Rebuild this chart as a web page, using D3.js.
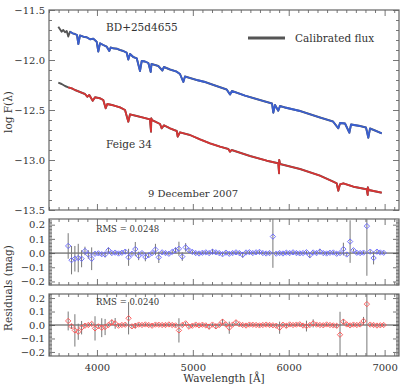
<!DOCTYPE html>
<html><head><meta charset="utf-8">
<script src="https://cdn.jsdelivr.net/npm/d3@7"></script>
<style>
body{margin:0;background:#fff}
svg{display:block}
text{font-family:"DejaVu Serif",serif;fill:#333}
</style>
</head><body>
<svg id="c" width="407" height="387"></svg>
<script>
// ---------- data ----------
const blueWave = [3597,3632,3649,3667,3685,3701,3719,3747,3771,3792,3806,3823,3858,3893,3928,3962,3997,4014,4032,4066,4102,4129,4143,4171,4206,4240,4275,4310,4327,4345,4379,4415,4449,4467,4501,4536,4561,4569,4606,4640,4682,4699,4762,4832,4866,4901,4918,4970,5040,5127,5231,5353,5388,5408,5544,5628,5753,5826,5839,5857,5891,5909,5961,6118,6326,6462,6517,6535,6587,6632,6650,6743,6806,6830,6848,6900,6970];
const blueFlux = [-11.667,-11.717,-11.700,-11.723,-11.710,-11.765,-11.717,-11.733,-11.740,-11.750,-11.840,-11.755,-11.767,-11.773,-11.793,-11.787,-11.817,-11.915,-11.833,-11.850,-11.867,-11.910,-11.875,-11.883,-11.887,-11.900,-11.910,-11.927,-11.995,-11.940,-11.970,-11.983,-12.110,-12.010,-12.015,-12.030,-12.120,-12.040,-12.050,-12.060,-12.105,-12.070,-12.095,-12.117,-12.140,-12.220,-12.165,-12.180,-12.200,-12.220,-12.255,-12.295,-12.345,-12.310,-12.357,-12.380,-12.415,-12.435,-12.527,-12.450,-12.507,-12.460,-12.475,-12.510,-12.575,-12.615,-12.683,-12.630,-12.635,-12.727,-12.645,-12.660,-12.675,-12.777,-12.685,-12.705,-12.733];
const blueObsStart = 3719;

const redWave = [3597,3632,3667,3701,3737,3771,3823,3875,3899,3920,3956,3980,4032,4066,4091,4108,4171,4240,4293,4327,4345,4415,4483,4553,4564,4567,4574,4588,4658,4675,4699,4762,4832,4842,4866,4970,5075,5179,5283,5370,5388,5405,5596,5770,5891,5899,5901,5909,6118,6326,6465,6500,6517,6535,6569,6674,6813,6824,6825,6834,6970];
const redFlux = [-12.227,-12.240,-12.260,-12.273,-12.283,-12.300,-12.320,-12.340,-12.367,-12.350,-12.407,-12.373,-12.383,-12.400,-12.483,-12.440,-12.453,-12.473,-12.500,-12.617,-12.543,-12.560,-12.577,-12.593,-12.717,-12.583,-12.600,-12.607,-12.640,-12.683,-12.653,-12.683,-12.710,-12.767,-12.723,-12.750,-12.793,-12.833,-12.867,-12.890,-12.917,-12.900,-12.960,-13.007,-13.033,-13.133,-13.000,-13.040,-13.090,-13.157,-13.217,-13.233,-13.307,-13.243,-13.233,-13.267,-13.293,-13.350,-13.273,-13.300,-13.327];
const redObsStart = 3685;

const resWave = [3700,3735,3770,3805,3840,3875,3910,3945,3980,4015,
 4050,4085,4120,4155,4190,4225,4260,4295,4330,4365,
 4400,4435,4470,4505,4540,4575,4610,4645,4680,4715,
 4750,4785,4820,4855,4890,4925,4960,4995,5030,5065,
 5100,5135,5170,5205,5240,5275,5310,5345,5380,5415,
 5450,5485,5520,5555,5590,5625,5660,5695,5730,5765,
 5800,5835,5870,5905,5940,5975,6010,6045,6080,6115,
 6150,6185,6220,6255,6290,6325,6360,6395,6430,6465,
 6500,6535,6570,6605,6640,6675,6710,6745,6780,6815,
 6850,6885,6920,6955,6990];
const resBlue = [0.050,-0.050,-0.040,-0.035,-0.040,0.015,-0.010,-0.040,-0.005,-0.002,
 -0.008,-0.010,0.020,0.000,0.003,-0.003,0.002,0.010,-0.030,-0.005,
 0.028,-0.020,0.000,-0.028,-0.015,0.000,0.025,-0.030,0.005,0.000,
 -0.005,0.008,0.020,0.030,-0.025,0.040,0.020,0.008,0.000,-0.003,
 0.002,0.005,0.000,0.010,0.005,0.000,-0.008,0.003,-0.005,0.000,
 0.005,0.000,-0.012,0.004,0.006,0.000,0.005,0.008,0.000,-0.003,
 0.000,0.116,-0.004,0.000,-0.003,0.003,0.000,0.005,0.000,-0.002,
 0.000,0.006,-0.015,0.004,0.000,0.010,0.000,-0.003,0.002,0.004,
 -0.005,0.000,0.028,-0.010,0.081,0.020,0.002,0.000,0.003,0.190,
 0.010,-0.035,0.010,0.004,0.002];
const errBlue = [0.090,0.100,0.090,0.100,0.060,0.030,0.030,0.080,0.010,0.010,
 0.010,0.020,0.020,0.010,0.010,0.010,0.010,0.015,0.060,0.010,
 0.050,0.030,0.010,0.030,0.015,0.010,0.040,0.040,0.010,0.010,
 0.010,0.010,0.020,0.050,0.030,0.030,0.015,0.010,0.010,0.010,
 0.010,0.010,0.010,0.020,0.010,0.010,0.010,0.010,0.010,0.010,
 0.010,0.010,0.020,0.010,0.010,0.010,0.010,0.010,0.010,0.010,
 0.010,0.220,0.010,0.010,0.010,0.010,0.010,0.010,0.010,0.010,
 0.010,0.010,0.020,0.010,0.010,0.020,0.010,0.010,0.010,0.010,
 0.010,0.010,0.045,0.012,0.150,0.010,0.010,0.010,0.010,0.350,
 0.010,0.045,0.010,0.010,0.010];
const resRed = [0.030,-0.010,-0.040,-0.050,-0.020,-0.005,0.000,0.008,-0.025,-0.010,
 -0.020,-0.015,0.000,0.020,0.012,-0.005,0.000,0.002,0.050,-0.010,
 -0.005,0.003,0.000,0.004,0.000,-0.005,0.003,0.002,0.000,0.000,
 0.004,0.000,-0.003,-0.040,0.000,0.012,-0.012,-0.005,0.003,-0.003,
 0.002,-0.003,-0.012,0.003,-0.010,0.000,0.025,0.004,-0.020,0.003,
 0.020,0.005,0.000,-0.004,0.003,0.002,0.000,-0.003,0.000,0.003,
 0.000,-0.002,-0.005,-0.020,0.002,-0.006,0.004,0.000,0.003,0.005,
 -0.004,-0.008,0.000,0.012,0.003,0.000,-0.002,0.004,0.000,-0.003,
 -0.006,-0.072,0.025,0.004,-0.003,0.003,0.000,0.004,0.030,0.155,
 0.003,0.000,-0.004,-0.002,0.000];
const errRed = [0.070,0.020,0.120,0.060,0.050,0.010,0.010,0.010,0.090,0.010,
 0.070,0.060,0.010,0.020,0.040,0.010,0.010,0.010,0.120,0.010,
 0.020,0.010,0.010,0.010,0.010,0.010,0.010,0.010,0.010,0.010,
 0.010,0.010,0.010,0.090,0.010,0.010,0.010,0.010,0.010,0.010,
 0.010,0.010,0.020,0.010,0.020,0.010,0.020,0.010,0.045,0.010,
 0.015,0.010,0.010,0.010,0.010,0.010,0.010,0.010,0.010,0.010,
 0.010,0.010,0.010,0.045,0.010,0.015,0.010,0.010,0.010,0.010,
 0.010,0.040,0.010,0.030,0.010,0.010,0.010,0.010,0.010,0.010,
 0.015,0.170,0.020,0.010,0.010,0.010,0.010,0.010,0.030,0.400,
 0.010,0.010,0.010,0.010,0.010];

const xTicks = [4000,5000,6000,7000];
const fluxTicks = [-11.5,-12.0,-12.5,-13.0,-13.5];
const resTicks = [0.2,0.1,0.0,-0.1,-0.2];
const rmsLabels = ["RMS = 0.0248","RMS = 0.0240"];
const starLabels = ["BD+25d4655","Feige 34"];
const dateLabel = "9 December 2007";
const legendLabel = "Calibrated flux";

// ---------- layout ----------
const svg = d3.select("#c");
const L = 49, R = 399;
const FR = "#666";
const x = d3.scaleLinear().domain([3500,7150]).range([L,R]);
const yTop = d3.scaleLinear().domain([-13.5,-11.5]).range([210,10]);
const yMid = d3.scaleLinear().domain([-0.225,0.24]).range([285,219]);
const yBot = d3.scaleLinear().domain([-0.23,0.23]).range([356,294]);

const xMinor = d3.range(3500,7150,100).filter(v => !xTicks.includes(v));

function styleAxis(g){
  g.select(".domain").remove();
  g.selectAll(".tick line").attr("stroke",FR).attr("stroke-width",0.9);
  g.selectAll(".tick text").attr("font-size",10).attr("fill","#333").attr("font-family","DejaVu Serif");
}

function frame(y, yMajor, yMinor, yFmt, xLabels, clipId){
  const [b,t] = y.range();
  const g = svg.append("g");
  g.append("clipPath").attr("id",clipId).append("rect")
    .attr("x",L).attr("y",t).attr("width",R-L).attr("height",b-t);
  g.append("g").attr("transform",`translate(${L},0)`)
    .call(d3.axisLeft(y).tickValues(yMajor).tickSize(-6).tickPadding(4).tickFormat(yFmt)).call(styleAxis);
  g.append("g").attr("transform",`translate(${L},0)`)
    .call(d3.axisLeft(y).tickValues(yMinor).tickSize(-3).tickFormat("")).call(styleAxis);
  g.append("g").attr("transform",`translate(${R},0)`)
    .call(d3.axisRight(y).tickValues(yMajor).tickSize(-6).tickFormat("")).call(styleAxis);
  g.append("g").attr("transform",`translate(${R},0)`)
    .call(d3.axisRight(y).tickValues(yMinor).tickSize(-3).tickFormat("")).call(styleAxis);
  g.append("g").attr("transform",`translate(0,${b})`)
    .call(d3.axisBottom(x).tickValues(xTicks).tickSize(-6).tickPadding(8).tickFormat(xLabels ? d3.format("d") : "")).call(styleAxis);
  g.append("g").attr("transform",`translate(0,${b})`)
    .call(d3.axisBottom(x).tickValues(xMinor).tickSize(-3).tickFormat("")).call(styleAxis);
  g.append("g").attr("transform",`translate(0,${t})`)
    .call(d3.axisTop(x).tickValues(xTicks).tickSize(-6).tickFormat("")).call(styleAxis);
  g.append("g").attr("transform",`translate(0,${t})`)
    .call(d3.axisTop(x).tickValues(xMinor).tickSize(-3).tickFormat("")).call(styleAxis);
  g.append("rect").attr("x",L).attr("y",t).attr("width",R-L).attr("height",b-t)
    .attr("fill","none").attr("stroke",FR).attr("stroke-width",1.2);
  return g;
}

const fmt1 = d3.format(".1f");
const topMinor = d3.range(-13.5,-11.49,0.1).map(v=>+v.toFixed(2)).filter(v=>!fluxTicks.includes(v));
const resMinor = d3.range(-0.22,0.235,0.01).map(v=>+v.toFixed(2)).filter(v=>!resTicks.includes(v));

frame(yTop, fluxTicks, topMinor, fmt1, false, "clipTop");
frame(yMid, resTicks, resMinor, fmt1, false, "clipMid");
frame(yBot, resTicks, resMinor, fmt1, true, "clipBot");

// ---------- spectra ----------
const spec = svg.append("g").attr("clip-path","url(#clipTop)");
function drawSpec(wave, flux, start, color){
  const pts = wave.map((w,i)=>[w,flux[i]]);
  const line = d3.line().x(d=>x(d[0])).y(d=>yTop(d[1]));
  spec.append("path").attr("d",line(pts)).attr("fill","none")
    .attr("stroke","#555").attr("stroke-width",1.9).attr("stroke-linejoin","round");
  spec.append("path").attr("d",line(pts.filter(d=>d[0]>=start))).attr("fill","none")
    .attr("stroke",color).attr("stroke-width",1.8).attr("stroke-linejoin","round");
}
drawSpec(blueWave, blueFlux, blueObsStart, "#3a5fd0");
drawSpec(redWave, redFlux, redObsStart, "#d63434");

svg.append("text").attr("x",106).attr("y",31).attr("font-size",10.5).text(starLabels[0]);
svg.append("text").attr("x",106).attr("y",148).attr("font-size",10.5).text(starLabels[1]);
svg.append("text").attr("x",148).attr("y",197).attr("font-size",10).text(dateLabel);
svg.append("line").attr("x1",248).attr("x2",285).attr("y1",38).attr("y2",38)
  .attr("stroke","#555").attr("stroke-width",3);
svg.append("text").attr("x",295).attr("y",42).attr("font-size",10.5).text(legendLabel);

// ---------- residuals ----------
const diamond = d3.symbol().type(d3.symbolDiamond2 || d3.symbolSquare).size(18);
function drawRes(y, vals, errs, color, clipId){
  const g = svg.append("g").attr("clip-path",`url(#${clipId})`);
  g.append("line").attr("x1",L).attr("x2",R).attr("y1",y(0)).attr("y2",y(0))
    .attr("stroke","#444").attr("stroke-width",1);
  g.selectAll("line.err").data(resWave).join("line").attr("class","err")
    .attr("x1",d=>x(d)).attr("x2",d=>x(d))
    .attr("y1",(d,i)=>y(vals[i]-errs[i])).attr("y2",(d,i)=>y(vals[i]+errs[i]))
    .attr("stroke","#777").attr("stroke-width",1);
  g.selectAll("path.pt").data(resWave).join("path").attr("class","pt")
    .attr("d",diamond)
    .attr("transform",(d,i)=>`translate(${x(d)},${y(vals[i])})${d3.symbolDiamond2 ? "" : " rotate(45)"}`)
    .attr("fill","none").attr("stroke",color).attr("stroke-width",0.9);
}
drawRes(yMid, resBlue, errBlue, "#6464ff", "clipMid");
drawRes(yBot, resRed, errRed, "#ff5050", "clipBot");

svg.append("text").attr("x",96).attr("y",232).attr("font-size",8.5).text(rmsLabels[0]);
svg.append("text").attr("x",96).attr("y",305).attr("font-size",8.5).text(rmsLabels[1]);

// ---------- axis titles ----------
svg.append("text").attr("transform","translate(12,112) rotate(-90)")
  .attr("text-anchor","middle").attr("font-size",10.5).text("log F(λ)");
svg.append("text").attr("transform","translate(12,288) rotate(-90)")
  .attr("text-anchor","middle").attr("font-size",10.5).text("Residuals (mag)");
svg.append("text").attr("x",224).attr("y",382).attr("text-anchor","middle")
  .attr("font-size",10.5).text("Wavelength [Å]");
</script>
</body></html>
